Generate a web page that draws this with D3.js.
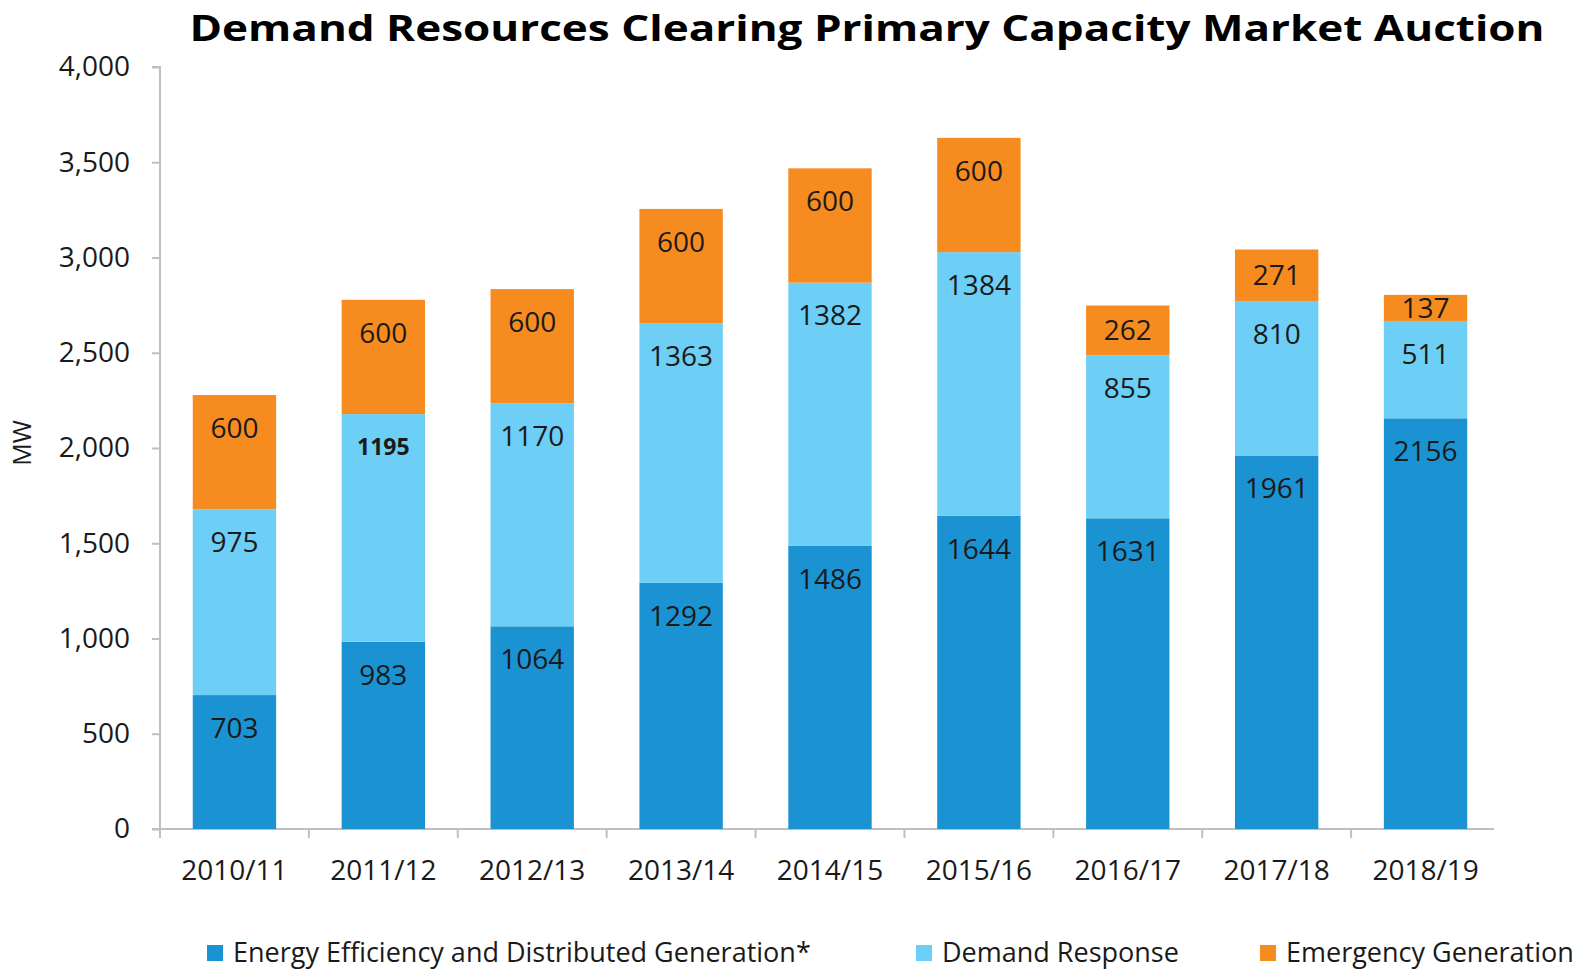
<!DOCTYPE html>
<html>
<head>
<meta charset="utf-8">
<script src="https://cdn.jsdelivr.net/npm/d3@7"></script>
<style>
  body { margin: 0; background: #fff; }
  text { font-family: "Open Sans", "DejaVu Sans", sans-serif; fill: #1a1a1a; }
</style>
</head>
<body>
<script>
// data
const years = ["2010/11", "2011/12", "2012/13", "2013/14", "2014/15", "2015/16", "2016/17", "2017/18", "2018/19"];
const efficiency = [703, 983, 1064, 1292, 1486, 1644, 1631, 1961, 2156];
const demand_response = [975, 1195, 1170, 1363, 1382, 1384, 855, 810, 511];
const emergency = [600, 600, 600, 600, 600, 600, 262, 271, 137];
const series_names = ["Energy Efficiency and Distributed Generation*", "Demand Response", "Emergency Generation"];
const y_ticks = [0, 500, 1000, 1500, 2000, 2500, 3000, 3500, 4000];

const COLORS = ["#1b93d2", "#6dcff6", "#f68b1f"];
const W = 1590, H = 974;
const FONT = "28px";

const svg = d3.select("body").append("svg")
    .attr("width", W)
    .attr("height", H);

const x = d3.scaleBand()
    .domain(years)
    .range([160, 1500])
    .paddingInner(0.44)
    .paddingOuter(0.22);

const y = d3.scaleLinear()
    .domain([0, 4000])
    .range([829, 67]);

// title (stretched wide like the original)
svg.append("text")
    .attr("x", 867)
    .attr("y", 41)
    .attr("text-anchor", "middle")
    .attr("textLength", 1355)
    .attr("lengthAdjust", "spacingAndGlyphs")
    .style("font-size", "36px")
    .style("font-weight", "bold")
    .style("fill", "#000")
    .text("Demand Resources Clearing Primary Capacity Market Auction");

// y axis
const y_axis = svg.append("g")
    .attr("transform", "translate(160,0)")
    .call(d3.axisLeft(y).tickValues(y_ticks).tickSize(8).tickPadding(22).tickFormat(d3.format(",")));
y_axis.selectAll("line, path").attr("stroke", "#bfbfbf").attr("stroke-width", 2);
y_axis.select("path").attr("d", "M-8,829H0V67H-8");
y_axis.selectAll("text").style("font-size", FONT).style("fill", "#1a1a1a");

svg.append("text")
    .attr("transform", "translate(31,443) rotate(-90)")
    .attr("text-anchor", "middle")
    .style("font-size", "25px")
    .text("MW");

// x axis, ticks between categories
const x_axis = svg.append("g")
    .attr("transform", "translate(0,829)");
x_axis.append("line")
    .attr("x1", 160).attr("x2", 1494)
    .attr("stroke", "#bfbfbf").attr("stroke-width", 2);
const step = x.step();
x_axis.selectAll("line.tick")
    .data(years)
    .enter().append("line")
    .attr("class", "tick")
    .attr("x1", d => x(d) - x.paddingInner() * step / 2)
    .attr("x2", d => x(d) - x.paddingInner() * step / 2)
    .attr("y1", 0).attr("y2", 9)
    .attr("stroke", "#bfbfbf").attr("stroke-width", 2);
x_axis.selectAll("text")
    .data(years)
    .enter().append("text")
    .attr("x", d => x(d) + x.bandwidth() / 2)
    .attr("y", 51)
    .attr("text-anchor", "middle")
    .style("font-size", FONT)
    .text(d => d);

// stacked bars
const rows = years.map((yr, i) => ({year: yr, s0: efficiency[i], s1: demand_response[i], s2: emergency[i]}));
const stacked = d3.stack().keys(["s0", "s1", "s2"])(rows);

const layers = svg.append("g").selectAll("g")
    .data(stacked)
    .enter().append("g")
    .attr("fill", (d, i) => COLORS[i]);

layers.selectAll("rect")
    .data(d => d)
    .enter().append("rect")
    .attr("x", d => x(d.data.year))
    .attr("width", x.bandwidth())
    .attr("y", d => y(d[1]))
    .attr("height", d => y(d[0]) - y(d[1]));

// labels sit near the top of each segment
layers.selectAll("text")
    .data(d => d.map(v => ({v, key: d.key})))
    .enter().append("text")
    .attr("x", d => x(d.v.data.year) + x.bandwidth() / 2)
    .attr("y", d => {
        const top = y(d.v[1]);
        const h = y(d.v[0]) - top;
        return top + Math.min(33, h / 2);
    })
    .attr("dy", "0.35em")
    .attr("text-anchor", "middle")
    .style("font-size", d => (d.v.data[d.key] === 1195 ? "23px" : FONT))
    .style("font-weight", d => (d.v.data[d.key] === 1195 ? "bold" : "normal"))
    .text(d => d.v.data[d.key]);

// legend
const legend_x = [207, 916, 1260];
const legend = svg.append("g").selectAll("g")
    .data(series_names)
    .enter().append("g")
    .attr("transform", (d, i) => `translate(${legend_x[i]},953)`);
legend.append("rect")
    .attr("x", 0).attr("y", -8)
    .attr("width", 16).attr("height", 16)
    .attr("fill", (d, i) => COLORS[i]);
legend.append("text")
    .attr("x", 26)
    .attr("dy", "0.35em")
    .style("font-size", "27px")
    .text(d => d);
</script>
</body>
</html>
